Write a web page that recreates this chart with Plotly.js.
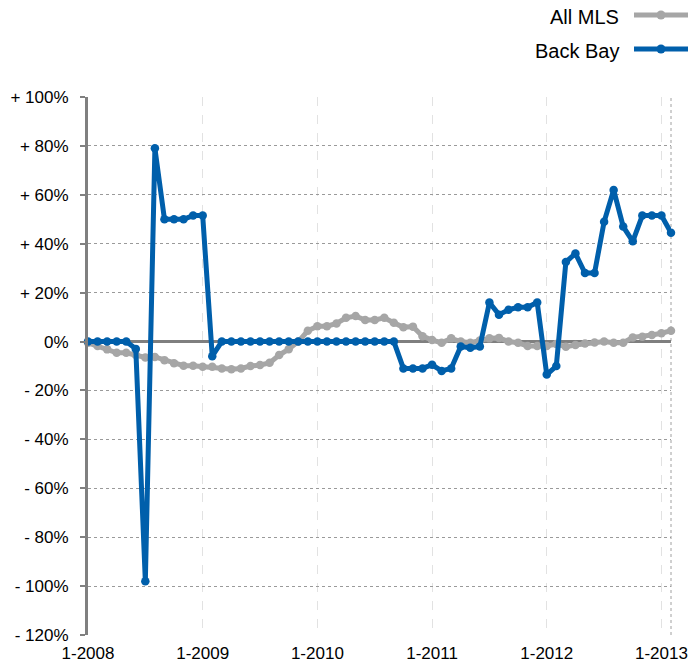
<!DOCTYPE html>
<html>
<head>
<meta charset="utf-8">
<script src="https://cdn.plot.ly/plotly-3.0.1.min.js"></script>
<style>html,body{margin:0;padding:0;background:#fff;}#chart{width:691px;height:668px;}</style>
</head>
<body>
<div id="chart"></div>
<script>
const months = [
  "Jan 2008","Feb 2008","Mar 2008","Apr 2008","May 2008","Jun 2008","Jul 2008","Aug 2008","Sep 2008","Oct 2008","Nov 2008","Dec 2008",
  "Jan 2009","Feb 2009","Mar 2009","Apr 2009","May 2009","Jun 2009","Jul 2009","Aug 2009","Sep 2009","Oct 2009","Nov 2009","Dec 2009",
  "Jan 2010","Feb 2010","Mar 2010","Apr 2010","May 2010","Jun 2010","Jul 2010","Aug 2010","Sep 2010","Oct 2010","Nov 2010","Dec 2010",
  "Jan 2011","Feb 2011","Mar 2011","Apr 2011","May 2011","Jun 2011","Jul 2011","Aug 2011","Sep 2011","Oct 2011","Nov 2011","Dec 2011",
  "Jan 2012","Feb 2012","Mar 2012","Apr 2012","May 2012","Jun 2012","Jul 2012","Aug 2012","Sep 2012","Oct 2012","Nov 2012","Dec 2012",
  "Jan 2013","Feb 2013"
];
const allMLS = [
  -0.5,-1.8,-3.2,-4.6,-4.6,-5.5,-6.5,-6.3,-7.6,-8.9,-9.9,-9.9,
  -10.3,-10.3,-11,-11.3,-11,-10,-9.6,-8.7,-5.5,-3.1,0,4.4,
  6.3,6.3,7.4,9.7,10.4,8.8,8.8,9.7,7.7,5.8,6.1,2.2,
  0.6,-0.5,1.3,0,-0.5,0.4,1.3,1.5,0,-0.5,-1.8,-1.8,
  -1.8,-1,-2.1,-1.4,-0.8,-0.4,0,-0.5,-0.5,1.7,2,2.7,
  3.4,4.4
];
const backBay = [
  0,0,0,0,0,-3,-98,79,50,50,50,51.5,
  51.5,-6,0,0,0,0,0,0,0,0,0,0,
  0,0,0,0,0,0,0,0,0,-11,-11,-11,
  -9.5,-12,-11,-2,-2.5,-2,16,11,13,14,14,16,
  -13.5,-10,32.5,36,28,28,49,62,47,41,51.5,51.5,
  51.5,44.5
];
const xTickVals = ["Jan 2008","Jan 2009","Jan 2010","Jan 2011","Jan 2012","Jan 2013"];
const xTickText = ["1-2008","1-2009","1-2010","1-2011","1-2012","1-2013"];
const yTickVals = [100,80,60,40,20,0,-20,-40,-60,-80,-100,-120];
const yTickText = ["+ 100%","+ 80%","+ 60%","+ 40%","+ 20%","0%","- 20%","- 40%","- 60%","- 80%","- 100%","- 120%"];
const seriesNames = ["All MLS","Back Bay"];
const seriesColors = ["#a6a6a6","#005fab"];

const FONT = "Liberation Sans, Arial, Helvetica, sans-serif";

const traces = [
  {x: months, y: allMLS, name: seriesNames[0], type: "scatter", mode: "lines+markers",
   line: {color: seriesColors[0], width: 5}, marker: {color: seriesColors[0], size: 8.5}, cliponaxis: false},
  {x: months, y: backBay, name: seriesNames[1], type: "scatter", mode: "lines+markers",
   line: {color: seriesColors[1], width: 5}, marker: {color: seriesColors[1], size: 8.5}, cliponaxis: false}
];

// manual legend (text right, symbol on the right)
const L = 88, W = 583, B = 33, H = 538;
function px(xp){ return (xp - L) / W; }
function py(yp){ return (668 - B - yp) / H; }
const legendY = [15, 49];
const annotations = [];
const shapes = [];
seriesNames.forEach((n, i) => {
  annotations.push({xref: "paper", yref: "paper", x: px(621), y: py(legendY[i] + 2), xanchor: "right", yanchor: "middle",
    text: n, showarrow: false, font: {family: FONT, size: 20, color: "#000"}});
  shapes.push({type: "line", xref: "paper", yref: "paper", x0: px(634), x1: px(688), y0: py(legendY[i]), y1: py(legendY[i]),
    line: {color: seriesColors[i], width: 5}});
  shapes.push({type: "circle", xref: "paper", yref: "paper", xsizemode: "pixel", ysizemode: "pixel",
    xanchor: px(661), yanchor: py(legendY[i]), x0: -4.5, x1: 4.5, y0: -4.5, y1: 4.5,
    fillcolor: seriesColors[i], line: {width: 0}});
});
// dotted right border
shapes.push({type: "line", xref: "paper", yref: "paper", x0: 1, x1: 1, y0: 0, y1: 1, layer: "below",
  line: {color: "#a0a0a0", width: 1, dash: "dot"}});

const layout = {
  width: 691, height: 668,
  margin: {l: L, r: 691 - L - W, t: 668 - B - H, b: B},
  paper_bgcolor: "#fff", plot_bgcolor: "#fff",
  showlegend: false,
  font: {family: FONT, size: 17, color: "#000"},
  xaxis: {
    type: "category", categoryorder: "array", categoryarray: months,
    range: [0, months.length - 1],
    tickmode: "array", tickvals: xTickVals, ticktext: xTickText,
    showgrid: true, gridcolor: "#e2e2e2", gridwidth: 1, griddash: "dash",
    showline: false, zeroline: false, ticks: "", ticklabelstandoff: 6,
    tickfont: {family: FONT, size: 17, color: "#000"}
  },
  yaxis: {
    range: [-120, 100],
    tickmode: "array", tickvals: yTickVals, ticktext: yTickText,
    showgrid: true, gridcolor: "#9a9a9a", gridwidth: 1, griddash: "dot",
    zeroline: true, zerolinecolor: "#7f7f7f", zerolinewidth: 3,
    showline: true, linecolor: "#808080", linewidth: 3,
    ticks: "outside", ticklen: 5, tickwidth: 2, tickcolor: "#808080",
    ticklabelstandoff: 8,
    tickfont: {family: FONT, size: 17, color: "#000"}
  },
  annotations: annotations,
  shapes: shapes
};

Plotly.newPlot("chart", traces, layout, {staticPlot: true, displayModeBar: false});
</script>
</body>
</html>
